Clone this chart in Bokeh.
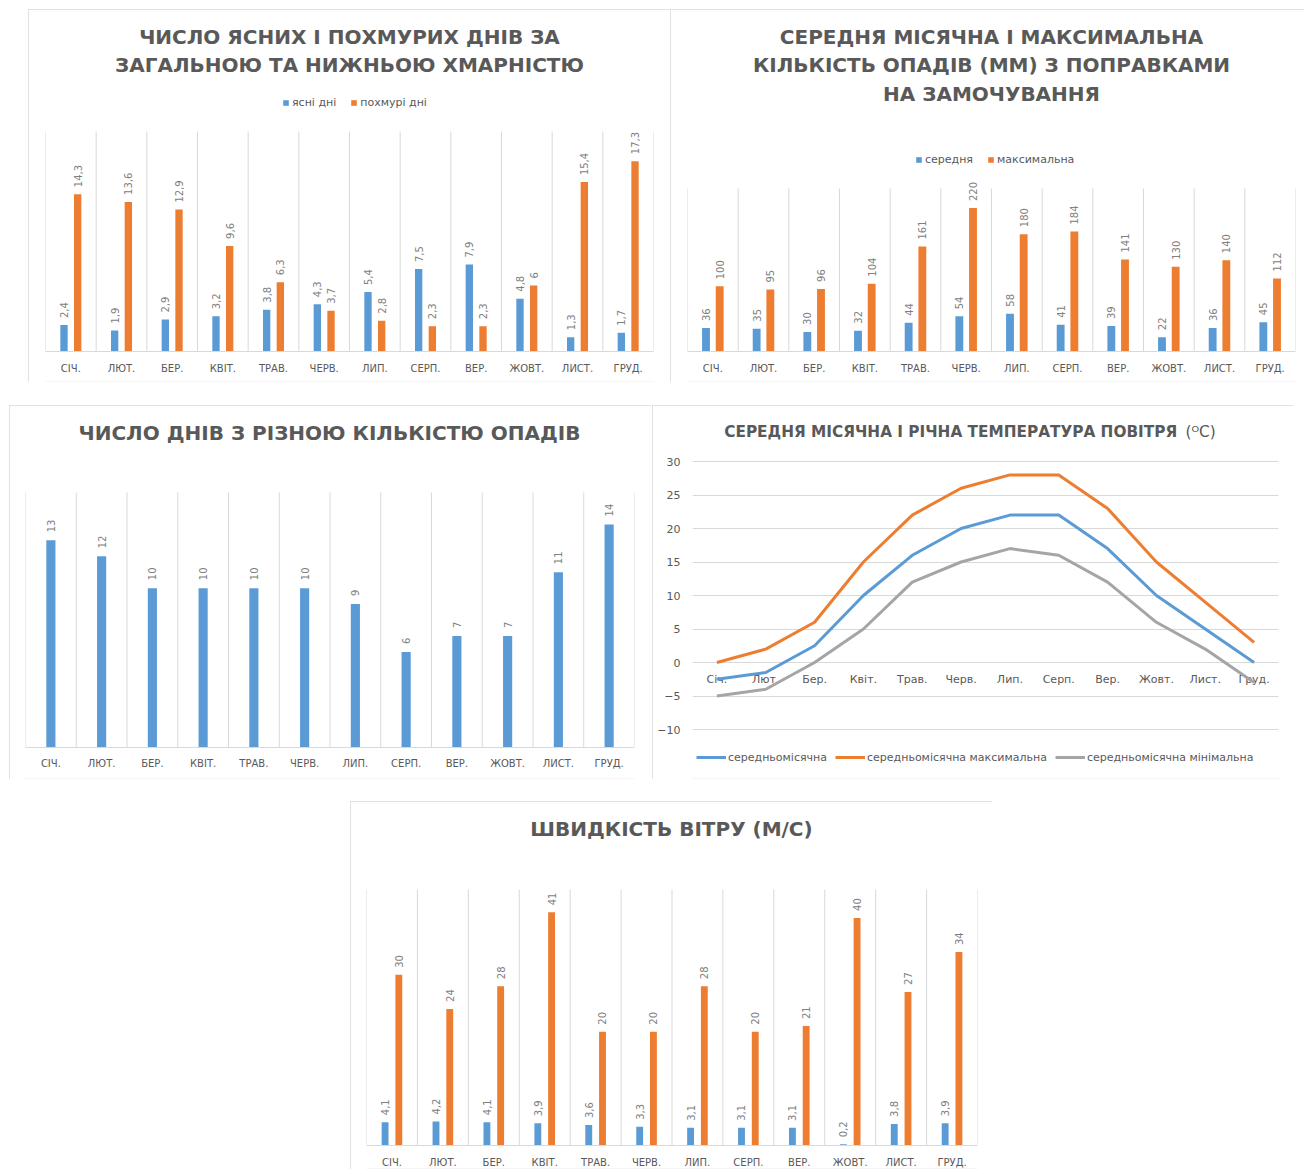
import math
from bokeh.plotting import figure
from bokeh.models import (ColumnDataSource, LabelSet, Label, Legend, LegendItem,
                          FixedTicker, Range1d, Spacer)
from bokeh.layouts import row, column
from bokeh.transform import dodge
from bokeh.core.properties import value
from bokeh.embed import file_html
from bokeh.resources import INLINE

# ---------------- data ----------------
months_upper = ["СІЧ.", "ЛЮТ.", "БЕР.", "КВІТ.", "ТРАВ.", "ЧЕРВ.",
                "ЛИП.", "СЕРП.", "ВЕР.", "ЖОВТ.", "ЛИСТ.", "ГРУД."]
months_lower = ["Січ.", "Лют.", "Бер.", "Квіт.", "Трав.", "Черв.",
                "Лип.", "Серп.", "Вер.", "Жовт.", "Лист.", "Груд."]

clear_days = [2.4, 1.9, 2.9, 3.2, 3.8, 4.3, 5.4, 7.5, 7.9, 4.8, 1.3, 1.7]
cloudy_days = [14.3, 13.6, 12.9, 9.6, 6.3, 3.7, 2.8, 2.3, 2.3, 6, 15.4, 17.3]

precip_mean = [36, 35, 30, 32, 44, 54, 58, 41, 39, 22, 36, 45]
precip_max = [100, 95, 96, 104, 161, 220, 180, 184, 141, 130, 140, 112]

precip_days = [13, 12, 10, 10, 10, 10, 9, 6, 7, 7, 11, 14]

temp_mean = [-2.5, -1.5, 2.5, 10, 16, 20, 22, 22, 17, 10, 5, 0]
temp_max = [0, 2, 6, 15, 22, 26, 28, 28, 23, 15, 9, 3]
temp_min = [-5, -4, 0, 5, 12, 15, 17, 16, 12, 6, 2, -3]
temp_ticks = [-10, -5, 0, 5, 10, 15, 20, 25, 30]

wind_mean = [4.1, 4.2, 4.1, 3.9, 3.6, 3.3, 3.1, 3.1, 3.1, 0.2, 3.8, 3.9]
wind_max = [30, 24, 28, 41, 20, 20, 28, 20, 21, 40, 27, 34]

# ---------------- style ----------------
BLUE = "#5b9bd5"
ORANGE = "#ed7d31"
GRAY = "#a5a5a5"
GRID = "#d9d9d9"
TEXT = "#595959"
LABEL = "#808080"
FONT = "DejaVu Sans"


def fmt(v):
    return f"{v:g}".replace(".", ",")


class Panel:
    """A figure whose frame spans the full height of its box (page pixels)."""

    def __init__(self, fig_left, fig_top, width, height, frame_left, frame_right,
                 baseline, top_px, top_val, x_range, y_axis=False):
        self.frame_left = frame_left
        self.frame_top = fig_top + 1
        self.frame_bot = fig_top + height - 1
        unit = (baseline - top_px) / top_val
        y0 = -(self.frame_bot - baseline) / unit
        y1 = (baseline - self.frame_top) / unit
        p = figure(width=width, height=height, x_range=x_range,
                   y_range=Range1d(y0, y1), output_backend="svg",
                   toolbar_location=None, tools="", title=None,
                   y_axis_location="left" if y_axis else None,
                   min_border_left=frame_left - fig_left,
                   min_border_right=fig_left + width - frame_right,
                   min_border_top=1, min_border_bottom=1)
        p.outline_line_color = None
        p.background_fill_color = "white"
        p.border_fill_color = "white"
        p.xgrid.grid_line_color = None
        p.ygrid.grid_line_color = None
        p.xaxis.fixed_location = 0
        p.xaxis.axis_line_color = GRID
        p.xaxis.major_tick_line_color = None
        p.xaxis.minor_tick_line_color = None
        p.xaxis.major_tick_out = 0
        p.xaxis.major_label_text_font = FONT
        p.xaxis.major_label_text_color = TEXT
        p.styles = {"outline": "1px solid #d9d9d9", "outline-offset": "-1px"}
        self.p = p

    def sx(self, page_x):
        return page_x - self.frame_left

    def sy(self, page_y):
        return self.frame_bot - page_y

    def title(self, lines, page_x, page_ys, size="20px"):
        for txt, y in zip(lines, page_ys):
            self.p.add_layout(Label(x=self.sx(page_x), y=self.sy(y),
                                    x_units="screen", y_units="screen",
                                    text=txt, text_align="center",
                                    text_baseline="middle", text_font=FONT,
                                    text_font_size=size, text_font_style="bold",
                                    text_color=TEXT))

    def separators(self, months, top_val):
        p = self.p
        s = ColumnDataSource(dict(m=months))
        p.segment(x0=dodge("m", -0.5, range=p.x_range), y0=0,
                  x1=dodge("m", -0.5, range=p.x_range), y1=top_val,
                  source=s, line_color=GRID, line_width=1, level="underlay")
        e = ColumnDataSource(dict(m=months[-1:]))
        p.segment(x0=dodge("m", 0.5, range=p.x_range), y0=0,
                  x1=dodge("m", 0.5, range=p.x_range), y1=top_val,
                  source=e, line_color=GRID, line_width=1, level="underlay")

    def bars(self, src, field, tfield, offset, width, color, label_offset=7):
        p = self.p
        r = p.vbar(x=dodge("m", offset, range=p.x_range), top=field, width=width,
                   source=src, fill_color=color, line_color=None)
        p.add_layout(LabelSet(x=dodge("m", offset, range=p.x_range), y=field,
                              text=tfield, source=src, angle=math.pi / 2,
                              text_align="left", text_baseline="middle",
                              y_offset=label_offset, text_font=value(FONT),
                              text_font_size=value("10px"), text_color=LABEL))
        return r

    def legend(self, items, page_left, page_cy, glyph_w=7, glyph_h=7,
               standoff=3, spacing=14, h=13):
        lg = Legend(items=[LegendItem(label=l, renderers=[r]) for l, r in items],
                    location=(self.sx(page_left), self.sy(page_cy + h / 2)),
                    orientation="horizontal",
                    glyph_width=glyph_w, glyph_height=glyph_h,
                    label_standoff=standoff, spacing=spacing, padding=0, margin=0,
                    label_height=12, border_line_color=None,
                    background_fill_alpha=0, label_text_font=FONT,
                    label_text_font_size="11px", label_text_color=TEXT)
        self.p.add_layout(lg)


# ---------------- panel 1 ----------------
P1 = Panel(29, 10, 642, 373, 46, 654, baseline=352, top_px=132, top_val=20,
           x_range=months_upper)
P1.p.xaxis.major_label_text_font_size = "10px"
P1.p.xaxis.major_label_standoff = 11
P1.separators(months_upper, 20)
src1 = ColumnDataSource(dict(m=months_upper, a=clear_days, b=cloudy_days,
                             ta=[fmt(v) for v in clear_days],
                             tb=[fmt(v) for v in cloudy_days]))
r1a = P1.bars(src1, "a", "ta", -0.135, 0.145, BLUE)
r1b = P1.bars(src1, "b", "tb", 0.135, 0.145, ORANGE)
P1.title(["ЧИСЛО ЯСНИХ І ПОХМУРИХ ДНІВ ЗА",
          "ЗАГАЛЬНОЮ ТА НИЖНЬОЮ ХМАРНІСТЮ"], 350, [37, 65.5])
P1.legend([("ясні дні", r1a), ("похмурі дні", r1b)], 283, 103)

# ---------------- panel 2 ----------------
P2 = Panel(671, 10, 634, 373, 688, 1296, baseline=352, top_px=189, top_val=250,
           x_range=months_upper)
P2.p.xaxis.major_label_text_font_size = "10px"
P2.p.xaxis.major_label_standoff = 11
P2.separators(months_upper, 250)
src2 = ColumnDataSource(dict(m=months_upper, a=precip_mean, b=precip_max,
                             ta=[fmt(v) for v in precip_mean],
                             tb=[fmt(v) for v in precip_max]))
r2a = P2.bars(src2, "a", "ta", -0.135, 0.155, BLUE)
r2b = P2.bars(src2, "b", "tb", 0.135, 0.155, ORANGE)
P2.title(["СЕРЕДНЯ МІСЯЧНА І МАКСИМАЛЬНА",
          "КІЛЬКІСТЬ ОПАДІВ (ММ) З ПОПРАВКАМИ",
          "НА ЗАМОЧУВАННЯ"], 992, [37, 65.5, 94])
P2.legend([("середня", r2a), ("максимальна", r2b)], 916, 160.5)

# ---------------- panel 3 ----------------
P3 = Panel(10, 406, 642, 374, 26, 635, baseline=748, top_px=493, top_val=16,
           x_range=months_upper)
P3.p.xaxis.major_label_text_font_size = "10px"
P3.p.xaxis.major_label_standoff = 10
P3.separators(months_upper, 16)
src3 = ColumnDataSource(dict(m=months_upper, a=precip_days,
                             ta=[fmt(v) for v in precip_days]))
P3.bars(src3, "a", "ta", 0.0, 0.18, BLUE, label_offset=8)
P3.title(["ЧИСЛО ДНІВ З РІЗНОЮ КІЛЬКІСТЮ ОПАДІВ"], 330, [433])

# ---------------- panel 4 ----------------
P4 = Panel(653, 406, 641, 374, 693, 1279, baseline=663, top_px=462, top_val=30,
           x_range=months_lower, y_axis=True)
p4 = P4.p
p4.xaxis.major_label_text_font_size = "11px"
p4.xaxis.major_label_standoff = 10
p4.yaxis.ticker = FixedTicker(ticks=temp_ticks)
p4.ygrid.grid_line_color = GRID
p4.yaxis.axis_line_color = None
p4.yaxis.major_tick_line_color = None
p4.yaxis.minor_tick_line_color = None
p4.yaxis.major_tick_out = 0
p4.yaxis.major_label_text_font = FONT
p4.yaxis.major_label_text_font_size = "11px"
p4.yaxis.major_label_text_color = TEXT
p4.yaxis.major_label_standoff = 12

src4 = ColumnDataSource(dict(m=months_lower, mean=temp_mean, mx=temp_max, mn=temp_min))
l_mean = p4.line("m", "mean", source=src4, line_color=BLUE, line_width=3,
                 line_join="round", level="overlay")
l_max = p4.line("m", "mx", source=src4, line_color=ORANGE, line_width=3,
                line_join="round", level="overlay")
l_min = p4.line("m", "mn", source=src4, line_color=GRAY, line_width=3,
                line_join="round", level="overlay")
p4.add_layout(Label(x=P4.sx(1183), y=P4.sy(432), x_units="screen", y_units="screen",
                    text="СЕРЕДНЯ МІСЯЧНА І РІЧНА ТЕМПЕРАТУРА  ПОВІТРЯ",
                    text_align="right", text_baseline="middle",
                    text_font=FONT, text_font_size="15.3px",
                    text_font_style="bold", text_color=TEXT))
p4.add_layout(Label(x=P4.sx(1186), y=P4.sy(432), x_units="screen", y_units="screen",
                    text="(ᴼC)", text_align="left", text_baseline="middle",
                    text_font=FONT, text_font_size="15.3px",
                    text_color=TEXT))
P4.legend([("середньомісячна", l_mean),
           ("середньомісячна максимальна", l_max),
           ("середньомісячна мінімальна", l_min)], 697, 758,
          glyph_w=30, glyph_h=12, standoff=2, spacing=8)

# ---------------- panel 5 ----------------
P5 = Panel(351, 802, 642, 368, 367, 978, baseline=1146, top_px=890, top_val=45,
           x_range=months_upper)
P5.p.xaxis.major_label_text_font_size = "10px"
P5.p.xaxis.major_label_standoff = 11
P5.separators(months_upper, 45)
src5 = ColumnDataSource(dict(m=months_upper, a=wind_mean, b=wind_max,
                             ta=[fmt(v) for v in wind_mean],
                             tb=[fmt(v) for v in wind_max]))
P5.bars(src5, "a", "ta", -0.135, 0.135, BLUE)
P5.bars(src5, "b", "tb", 0.135, 0.135, ORANGE)
P5.title(["ШВИДКІСТЬ ВІТРУ (М/С)"], 672, [829])

# ---------------- layout ----------------
layout = column(
    Spacer(width=1, height=9),
    row(Spacer(width=28, height=1), P1.p, P2.p),
    Spacer(width=1, height=23),
    row(Spacer(width=9, height=1), P3.p, Spacer(width=1, height=1), P4.p),
    Spacer(width=1, height=22),
    row(Spacer(width=350, height=1), P5.p),
)

open("out.html", "w").write(file_html(layout, INLINE))
